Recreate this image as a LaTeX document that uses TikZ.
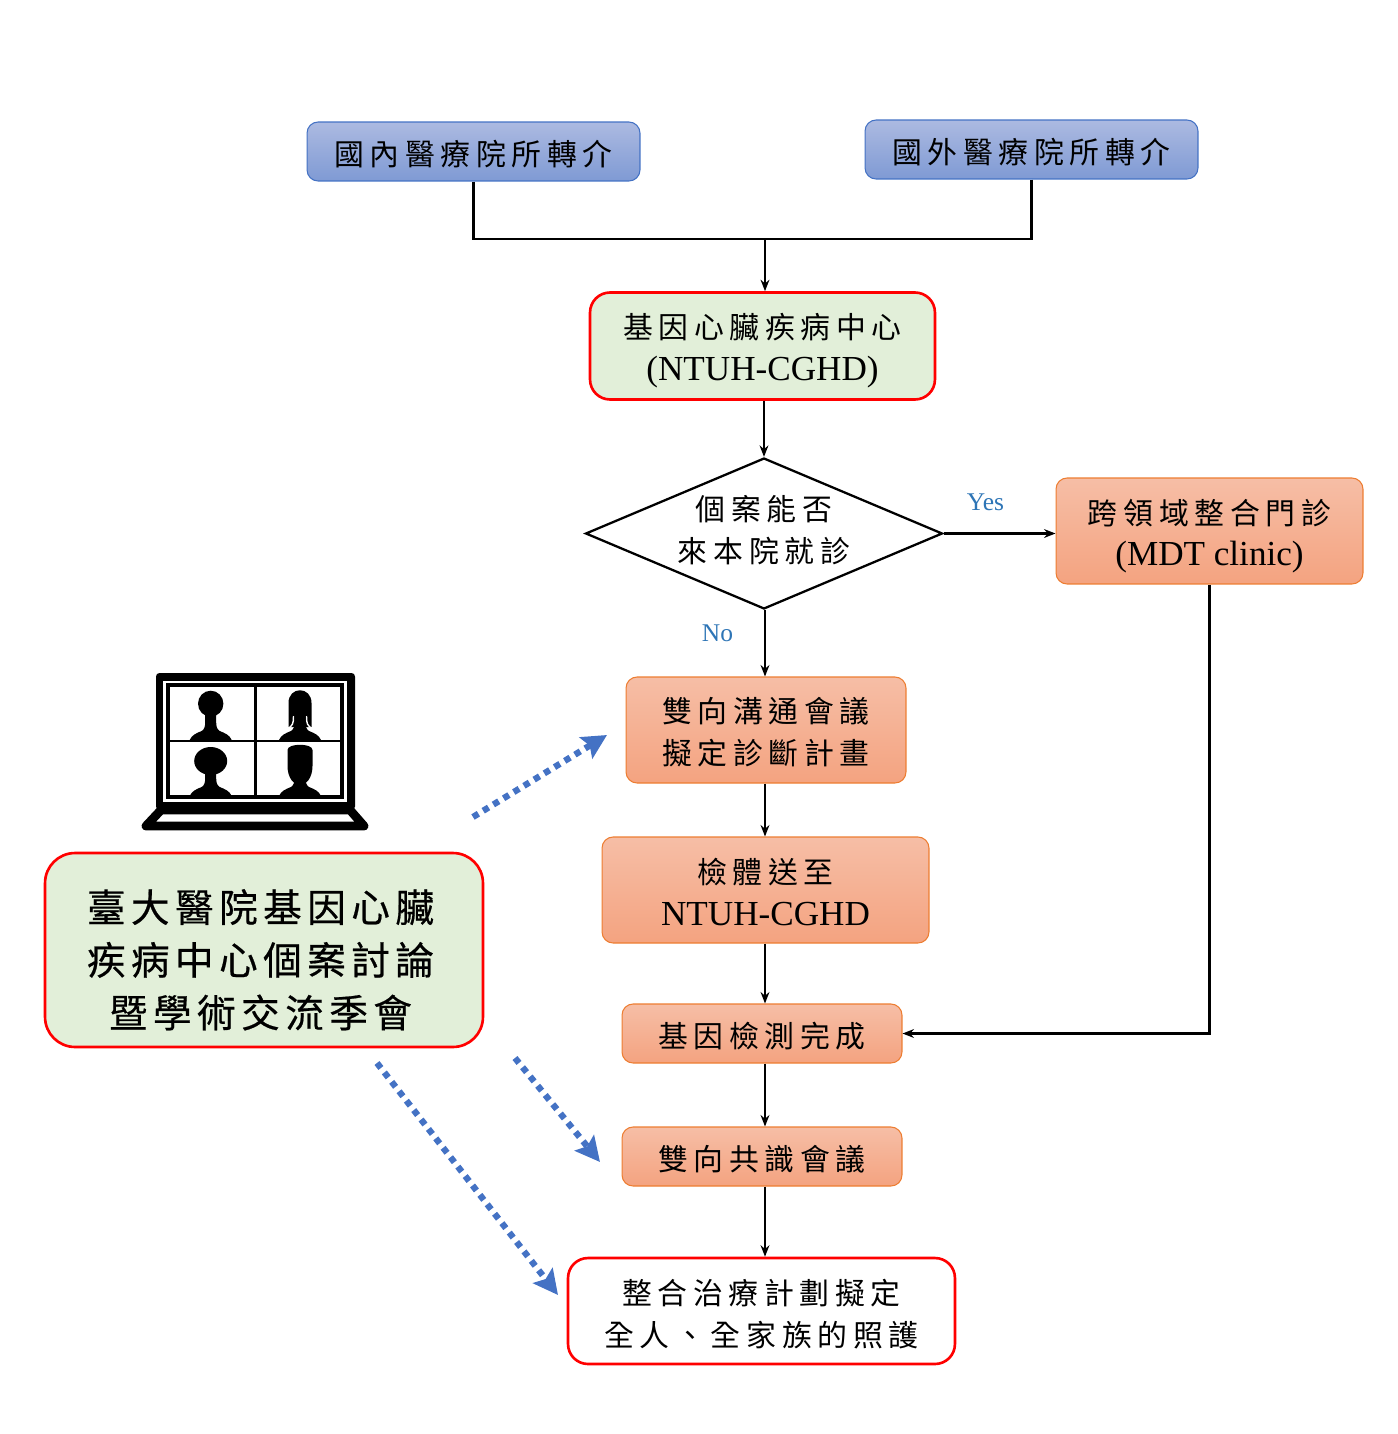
\documentclass[tikz,border=0pt]{standalone}
\usepackage{fontspec}
\setmainfont{Liberation Serif}
\newfontfamily\cjk[LetterSpace=19]{Noto Sans CJK TC}
\newfontfamily\cjkbig[LetterSpace=14,FakeBold=0.5]{Noto Sans CJK TC}
\usetikzlibrary{arrows.meta,shapes.geometric}
\definecolor{bluetop}{HTML}{ACBAE1}
\definecolor{bluebot}{HTML}{7F9AD4}
\definecolor{blueline}{HTML}{4472C4}
\definecolor{orangetop}{HTML}{F6BEA6}
\definecolor{orangebot}{HTML}{F4A380}
\definecolor{orangeline}{HTML}{ED7D31}
\definecolor{greenfill}{HTML}{E2EFD9}
\definecolor{labelblue}{HTML}{2E75B6}
\def\latin#1{{\normalfont\fontsize{20}{23.8}\selectfont #1}}
\def\lift#1{\rule{0pt}{#1}}
% torso of one person in the laptop screen
\def\torso(#1,#2){\fill[black,shift={(#1,#2)}] (-21,0) .. controls (-19,-5) and (-14,-7) .. (-9,-9) .. controls (-6,-11) and (-5.5,-14) .. (-5.5,-18) -- (-5.5,-26) -- (5.5,-26) -- (5.5,-18) .. controls (5.5,-14) and (6,-11) .. (9,-9) .. controls (14,-7) and (19,-5) .. (21,0) -- cycle;}
\tikzset{
	box/.style={rectangle, rounded corners=0.22cm, align=center, inner sep=0pt, font=\fontsize{17}{23.8}\selectfont\cjk},
	referbox/.style={box, draw=blueline, line width=0.6pt, top color=bluetop, bottom color=bluebot},
	stepbox/.style={box, draw=orangeline, line width=0.6pt, top color=orangetop, bottom color=orangebot},
	redbox/.style={box, draw=red, line width=1.5pt, rounded corners=0.4cm},
	decide/.style={diamond, draw=black, line width=1.3pt, align=center, inner sep=-3pt, aspect=2.36, font=\fontsize{17}{23.8}\selectfont\cjk},
	link/.style={draw=black, line width=1.5pt},
	flow/.style={link, -{Stealth[length=6.5pt,width=5pt]}},
	online/.style={draw=blueline, line width=3.6pt, dash pattern=on 3.6pt off 3.2pt, -{Stealth[length=14pt,width=14pt,inset=2.5pt]}},
	answer/.style={text=labelblue, inner sep=0pt, font=\fontsize{14.5}{16}\selectfont},
}
\begin{document}
\begin{tikzpicture}[x=0.02cm,y=-0.02cm]
		\useasboundingbox (0,0) rectangle (1398,1434);
		
		%%%%% flow boxes %%%%%
		\node[referbox, minimum width=6.66cm, minimum height=1.18cm] (domestic) at (473.5,151.5) {\lift{17.4pt}國內醫療院所轉介};
		\node[referbox, minimum width=6.66cm, minimum height=1.18cm] (abroad) at (1031.5,149.5) {\lift{17.4pt}國外醫療院所轉介};
		\node[redbox, fill=greenfill, minimum width=6.9cm, minimum height=2.14cm] (center) at (762.5,346) {\lift{19.6pt}基因心臟疾病中心\\\latin{(NTUH-CGHD)}};
		\node[decide, minimum width=7.14cm, minimum height=3.02cm] (decision) at (764,533.5) {個案能否\\來本院就診\rule[-5.2pt]{0pt}{5.2pt}};
		\node[stepbox, minimum width=6.14cm, minimum height=2.12cm] (mdt) at (1209.5,531) {\lift{20.2pt}跨領域整合門診\\\latin{(MDT clinic)}};
		\node[stepbox, minimum width=5.6cm, minimum height=2.12cm] (meeting) at (766,730) {\lift{16.8pt}雙向溝通會議\\擬定診斷計畫};
		\node[stepbox, minimum width=6.54cm, minimum height=2.12cm] (sample) at (765.5,890) {\lift{16.8pt}檢體送至\\\latin{NTUH-CGHD}};
		\node[stepbox, minimum width=5.6cm, minimum height=1.18cm] (finish) at (762,1033.5) {\lift{17.4pt}基因檢測完成};
		\node[stepbox, minimum width=5.6cm, minimum height=1.18cm] (consensus) at (762,1156.5) {\lift{17.4pt}雙向共識會議};
		\node[redbox, minimum width=7.74cm, minimum height=2.12cm] (plan) at (761.5,1311) {\lift{17.9pt}整合治療計劃擬定\\全人、全家族的照護};
		\node[redbox, fill=greenfill, rounded corners=0.6cm, minimum width=8.76cm, minimum height=3.88cm, font=\fontsize{22}{30}\selectfont\cjkbig] (forum) at (264,950) {\lift{29.8pt}臺大醫院基因心臟\kern4pt\\疾病中心個案討論\kern4pt\\暨學術交流季會\kern4pt};
		
		%%%%% connectors %%%%%
		\coordinate (join) at (765,239);
		\draw[link] (domestic.south) |- (join);
		\draw[link] (abroad.south) |- (join);
		\draw[flow] (join) -- (join |- center.north);
		\draw[flow] (decision.north |- center.south) -- (decision.north);
		\draw[flow] (decision.east) -- (mdt.west |- decision.east);
		\draw[flow] (join |- decision.south) -- (join |- meeting.north);
		\draw[flow] (join |- meeting.south) -- (join |- sample.north);
		\draw[flow] (join |- sample.south) -- (join |- finish.north);
		\draw[flow] (join |- finish.south) -- (join |- consensus.north);
		\draw[flow] (join |- consensus.south) -- (join |- plan.north);
		\draw[flow] (mdt.south) |- (finish.east);
		
		\node[answer] (yes) at (985.5,502) {Yes};
		\node[answer] (no) at (717.5,633) {No};
		
		%%%%% online meeting arrows %%%%%
		\coordinate (start1) at (473,817);
		\coordinate (end1) at (607,735);
		\coordinate (start2) at (515,1058);
		\coordinate (end2) at (600,1162);
		\coordinate (start3) at (377,1063);
		\coordinate (end3) at (558,1295);
		\draw[online] (start1) -- (end1);
		\draw[online] (start2) -- (end2);
		\draw[online] (start3) -- (end3);
		
		%%%%% laptop %%%%%
		\fill[black, rounded corners=2pt] (156,673) rectangle (355,810);
		\fill[white] (163,681) rectangle (347,802);
		\draw[black, line width=2pt] (168,685) rectangle (342,797);
		\draw[black, line width=1.3pt] (255.5,685) -- (255.5,797);
		\draw[black, line width=1.3pt] (168,741) -- (342,741);
		\draw[black, line width=5pt, line join=round, fill=white] (161,810) -- (350,810) -- (364,826) -- (146,826) -- cycle;
		
		% upper left person
		\torso(210.7,740)
		\fill[black] (210.7,703.7) ellipse (12.7 and 13);
		% upper right person
		\fill[black] (288.5,727) -- (288.5,703) .. controls (288.5,686) and (311.5,686) .. (311.5,703) -- (311.5,727) -- cycle;
		\draw[white, line width=0.8pt] (287,729) .. controls (293,726) and (293.5,723) .. (293.5,716);
		\draw[white, line width=0.8pt] (313,729) .. controls (307,726) and (306.5,723) .. (306.5,716);
		\torso(300,740)
		% lower left person
		\fill[black] (210.7,761) ellipse (16.5 and 14);
		\torso(210.7,796)
		% lower right person
		\fill[black] (287.5,750) .. controls (287.5,743) and (312.5,743) .. (312.5,750) -- (312.5,766) .. controls (312.5,778) and (306,785) .. (300,785) .. controls (294,785) and (287.5,778) .. (287.5,766) -- cycle;
		\torso(300,796)
		
	\end{tikzpicture}
\end{document}
